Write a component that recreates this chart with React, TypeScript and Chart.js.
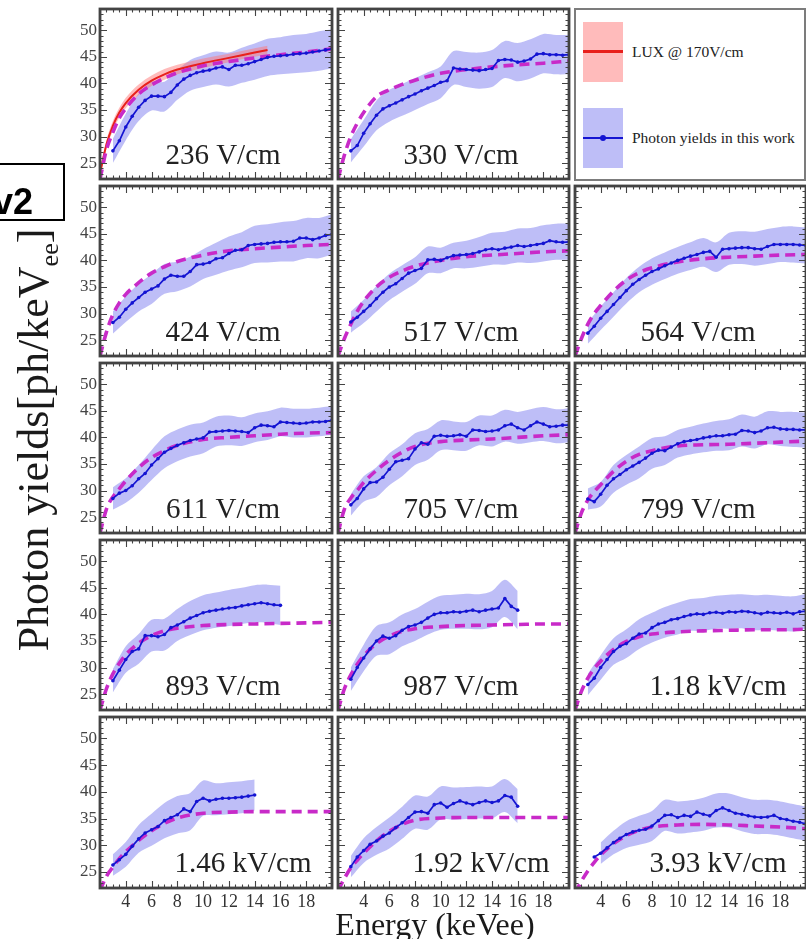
import React, { useEffect, useRef } from "react";
import { Chart, registerables } from "chart.js";

Chart.register(...registerables);

// ---------------- data grids ----------------
const E_DATA = [3, 3.5, 4, 4.5, 5, 5.5, 6, 6.5, 7, 7.5, 8, 8.5, 9, 9.5, 10, 10.5, 11, 11.5, 12, 12.5, 13, 13.5, 14, 14.5, 15, 15.5, 16, 16.5, 17, 17.5, 18, 18.5, 19, 19.5, 20];
const E_BAND = [3, 4, 5, 6, 7, 8, 9, 10, 11, 12, 13, 14, 15, 16, 17, 18, 19, 20];
const E_MODEL = [2, 2.5, 3, 3.5, 4, 5, 6, 7, 8, 10, 12, 14, 16, 18, 20];
const X_TICKS = [4, 6, 8, 10, 12, 14, 16, 18];
const Y_TICKS = [25, 30, 35, 40, 45, 50];

const FIELD_LABELS = ["236 V/cm", "330 V/cm", "424 V/cm", "517 V/cm", "564 V/cm", "611 V/cm", "705 V/cm", "799 V/cm", "893 V/cm", "987 V/cm", "1.18 kV/cm", "1.46 kV/cm", "1.92 kV/cm", "3.93 kV/cm"];

// LUX @ 170 V/cm
const LUX_E = [2, 2.5, 3, 3.5, 4, 5, 6, 7, 8, 10, 12, 14, 15];
const LUX_Y = [23.0, 28.5, 32.0, 34.5, 36.3, 38.8, 40.5, 41.7, 42.6, 43.8, 44.8, 45.8, 46.3];
const LUX_ERR = [0.6, 0.8, 0.9, 0.9, 1.0, 1.0, 1.0, 1.0, 0.9, 0.9, 0.8, 0.8, 0.8];

// photon yields (this work), model curves, and error half-widths
const yld236 = [27.3, 29.2, 31.8, 33.8, 35.5, 36.8, 37.6, 37.6, 37.5, 38.3, 39.7, 40.8, 41.5, 42.0, 42.3, 42.5, 42.9, 43.1, 42.6, 43.4, 43.4, 43.7, 44.1, 44.5, 44.9, 45.1, 45.2, 45.3, 45.5, 45.6, 45.7, 45.9, 46.1, 46.3, 46.5];
const err236 = [2.3, 2.5, 2.6, 2.7, 2.8, 2.8, 2.9, 3.0, 3.1, 3.2, 3.3, 3.4, 3.5, 3.5, 3.6, 3.6, 3.7, 3.7];
const mod236 = [22.0, 27.5, 30.8, 33.5, 35.3, 38.0, 39.7, 41.0, 42.0, 43.3, 44.1, 44.8, 45.4, 45.9, 46.5];

const yld330 = [27.3, 28.3, 30.6, 32.4, 34.0, 35.2, 35.8, 36.3, 36.9, 37.5, 38.0, 38.6, 39.1, 39.6, 40.2, 40.5, 42.9, 42.7, 42.6, 42.5, 42.4, 42.6, 42.8, 44.3, 44.5, 44.4, 44.0, 44.2, 44.6, 45.5, 45.6, 45.4, 45.4, 45.3, 45.4];
const err330 = [2.2, 2.5, 2.8, 3.0, 3.0, 3.0, 3.0, 3.0, 3.2, 3.3, 3.4, 3.5, 3.5, 3.6, 3.7, 3.7, 3.7, 3.7];
const mod330 = [22.0, 26.5, 30.0, 32.5, 34.5, 37.5, 38.8, 39.8, 40.6, 41.9, 42.6, 43.1, 43.5, 43.8, 44.2];

const yld424 = [28.3, 29.3, 30.8, 32.0, 33.0, 34.0, 34.6, 35.2, 36.5, 37.2, 37.0, 37.0, 37.9, 39.2, 39.3, 39.6, 40.3, 40.5, 41.3, 41.9, 42.0, 42.8, 43.0, 43.1, 43.2, 43.4, 43.5, 43.5, 43.6, 44.2, 44.2, 43.9, 44.2, 44.7, 44.9];
const err424 = [2.1, 2.4, 2.6, 2.8, 2.8, 2.8, 2.8, 2.8, 3.0, 3.2, 3.3, 3.5, 3.6, 3.7, 3.8, 3.8, 3.8, 3.8];
const mod424 = [22.0, 26.5, 29.8, 32.0, 33.6, 35.8, 37.6, 38.8, 39.8, 41.0, 41.8, 42.2, 42.5, 42.8, 43.0];

const yld517 = [28.4, 29.3, 30.4, 31.5, 32.8, 34.0, 35.0, 35.6, 36.6, 37.6, 38.1, 38.5, 40.1, 40.2, 40.0, 40.5, 40.9, 41.0, 41.1, 41.3, 41.6, 42.0, 42.2, 42.0, 42.3, 42.5, 42.8, 42.6, 42.8, 43.0, 43.2, 43.7, 43.5, 43.4, 43.5];
const err517 = [2.0, 2.2, 2.4, 2.5, 2.5, 2.5, 2.5, 2.4, 2.4, 2.6, 2.8, 3.0, 3.1, 3.2, 3.3, 3.4, 3.4, 3.4];
const mod517 = [22.0, 25.3, 28.0, 30.4, 32.3, 35.0, 36.8, 38.0, 38.9, 40.0, 40.7, 41.0, 41.3, 41.6, 41.8];

const yld564 = [26.3, 27.6, 29.1, 30.4, 31.7, 33.0, 34.3, 35.5, 36.4, 37.2, 37.9, 38.4, 39.0, 39.5, 40.0, 40.4, 40.8, 41.1, 41.5, 41.7, 40.6, 42.1, 42.2, 42.3, 42.4, 42.4, 42.2, 42.1, 42.6, 43.0, 43.0, 43.0, 43.0, 42.9, 42.8];
const err564 = [2.0, 2.2, 2.3, 2.4, 2.4, 2.5, 2.5, 2.5, 2.6, 2.7, 2.8, 3.0, 3.1, 3.2, 3.3, 3.3, 3.4, 3.4];
const mod564 = [22.0, 25.3, 28.0, 30.0, 31.5, 34.2, 36.3, 37.7, 38.6, 39.7, 40.3, 40.6, 40.8, 41.0, 41.1];

const yld611 = [28.5, 29.5, 30.0, 30.9, 32.2, 33.2, 34.8, 36.0, 37.2, 37.9, 38.5, 39.0, 39.4, 39.7, 39.9, 41.0, 41.1, 41.2, 41.3, 41.2, 41.1, 40.9, 41.8, 42.3, 42.2, 42.0, 42.9, 42.8, 42.7, 42.6, 42.7, 42.9, 42.9, 43.0, 43.2];
const err611 = [2.1, 2.3, 2.6, 2.8, 3.0, 3.0, 3.0, 2.9, 2.8, 2.8, 2.7, 2.7, 2.7, 2.7, 2.7, 2.7, 2.7, 2.7];
const mod611 = [22.0, 26.5, 28.8, 30.3, 31.8, 34.3, 36.2, 37.5, 38.5, 39.6, 40.0, 40.3, 40.6, 40.8, 40.9];

const yld705 = [27.3, 28.5, 30.3, 31.5, 31.6, 32.5, 34.0, 35.4, 35.7, 36.0, 37.8, 39.0, 38.7, 40.2, 40.4, 40.2, 40.3, 40.5, 40.2, 41.4, 41.3, 41.1, 41.2, 41.4, 42.2, 42.5, 41.8, 41.4, 42.2, 42.9, 42.5, 42.0, 42.1, 42.3, 42.3];
const err705 = [2.0, 2.4, 2.8, 3.0, 3.0, 3.0, 2.9, 2.8, 2.7, 2.7, 2.8, 2.9, 3.0, 3.0, 3.1, 3.2, 3.2, 3.2];
const mod705 = [22.0, 26.5, 28.6, 30.0, 31.5, 33.8, 35.7, 37.2, 38.3, 39.2, 39.5, 39.7, 40.0, 40.3, 40.5];

const yld799 = [28.4, 27.9, 29.3, 31.0, 32.2, 33.0, 33.9, 34.6, 35.3, 36.1, 37.0, 37.6, 37.5, 38.2, 38.8, 39.2, 39.4, 39.6, 39.9, 40.1, 40.3, 40.3, 40.5, 40.6, 41.3, 41.2, 40.9, 41.2, 41.8, 41.9, 41.6, 41.5, 41.5, 41.4, 41.4];
const err799 = [2.0, 2.3, 2.6, 2.8, 3.0, 2.9, 2.7, 2.6, 2.6, 2.7, 2.8, 2.9, 3.0, 3.0, 3.1, 3.2, 3.3, 3.3];
const mod799 = [22.0, 25.8, 28.2, 29.8, 31.1, 33.6, 35.5, 36.8, 37.5, 38.4, 38.6, 38.7, 38.9, 39.1, 39.3];

const yld893 = [27.5, 29.5, 31.5, 33.0, 33.5, 36.0, 36.0, 35.8, 36.2, 37.5, 38.0, 38.6, 39.3, 39.8, 40.3, 40.6, 40.8, 41.0, 41.2, 41.3, 41.6, 41.8, 42.0, 42.2, 42.0, 41.8, 41.7, null, null, null, null, null, null, null, null];
const err893 = [2.2, 2.5, 2.8, 3.0, 3.0, 3.0, 3.2, 3.3, 3.3, 3.4, 3.4, 3.5, 3.6, 3.7, null, null, null, null];
const mod893 = [22.0, 26.0, 28.8, 30.8, 32.4, 34.6, 36.0, 36.9, 37.4, 37.9, 38.1, 38.2, 38.3, 38.4, 38.5];

const yld987 = [27.8, 30.0, 31.8, 33.5, 35.0, 35.9, 35.5, 36.0, 37.0, 37.7, 38.0, 38.5, 39.3, 40.0, 40.3, 40.3, 40.5, 40.4, 40.6, 40.8, 40.5, 40.8, 41.0, 41.2, 43.0, 41.5, 40.8, null, null, null, null, null, null, null, null];
const err987 = [2.2, 2.5, 2.8, 3.0, 3.0, 3.0, 3.1, 3.2, 3.2, 3.3, 3.3, 3.4, 3.5, 3.6, null, null, null, null];
const mod987 = [22.0, 26.0, 28.6, 30.6, 32.2, 34.5, 35.9, 36.8, 37.3, 37.7, 37.9, 38.0, 38.1, 38.2, 38.2];

const yld1180 = [26.8, 28.0, 30.0, 31.5, 33.0, 34.0, 34.5, 35.5, 36.3, 36.5, 37.5, 38.2, 38.5, 39.0, 39.2, 39.6, 39.9, 40.1, 40.0, 40.3, 40.4, 40.2, 40.5, 40.4, 40.6, 40.5, 40.3, 40.1, 40.4, 40.3, 40.2, 40.4, 40.1, 40.5, 40.6];
const err1180 = [2.0, 2.3, 2.5, 2.7, 2.8, 2.8, 2.9, 3.0, 3.0, 3.1, 3.1, 3.2, 3.2, 3.3, 3.3, 3.3, 3.3, 3.3];
const mod1180 = [22.0, 25.5, 28.0, 29.8, 31.2, 33.4, 34.9, 35.8, 36.3, 36.7, 36.9, 37.0, 37.1, 37.1, 37.2];

const yld1460 = [26.3, 27.3, 28.3, 29.8, 31.2, 32.3, 32.9, 33.5, 34.6, 35.2, 35.7, 36.8, 36.3, 38.2, 38.8, 38.3, 38.6, 38.8, 38.8, 38.9, 39.0, 39.2, 39.4, null, null, null, null, null, null, null, null, null, null, null, null];
const err1460 = [2.0, 2.3, 2.6, 3.0, 3.3, 3.5, 3.5, 3.3, 3.0, 3.0, 3.0, 2.9, null, null, null, null, null, null];
const mod1460 = [21.5, 24.2, 25.9, 27.5, 28.8, 30.9, 32.7, 34.1, 35.1, 36.0, 36.2, 36.3, 36.3, 36.3, 36.3];

const yld1920 = [26.0, 27.8, 29.0, 30.2, 30.8, 31.7, 32.3, 33.3, 34.2, 35.2, 36.2, 36.3, 36.0, 37.6, 37.9, 37.1, 37.8, 38.3, 37.9, 37.6, 38.0, 38.3, 38.0, 38.3, 39.3, 39.0, 37.3, null, null, null, null, null, null, null, null];
const err1920 = [2.0, 2.3, 2.6, 2.9, 3.0, 3.1, 3.1, 3.1, 3.0, 3.0, 3.0, 3.0, 3.1, 3.2, null, null, null, null];
const mod1920 = [21.5, 23.8, 25.8, 27.2, 28.5, 30.8, 32.6, 33.9, 34.7, 35.1, 35.2, 35.2, 35.2, 35.2, 35.2];

const yld3930 = [null, 27.8, 28.5, 29.5, 30.5, 31.3, 32.0, 32.5, 32.8, 33.0, 33.6, 34.6, 35.6, 35.7, 35.2, 35.6, 35.4, 36.2, 35.8, 35.5, 36.5, 37.0, 36.5, 36.0, 35.8, 35.5, 35.3, 35.2, 35.3, 35.6, 35.0, 34.8, 34.5, 34.3, 34.0];
const err3930 = [null, 2.0, 2.2, 2.5, 2.7, 2.8, 2.9, 3.0, 3.0, 3.1, 3.2, 3.2, 3.2, 3.2, 3.2, 3.2, 3.2, 3.2];
const mod3930 = [21.0, 23.3, 25.2, 26.8, 28.2, 30.3, 31.8, 32.8, 33.4, 33.8, 33.9, 33.8, 33.6, 33.4, 33.1];

type Num = number | null;
type PanelDef = { label: string; yld: Num[]; err: Num[]; mod: number[]; lux?: boolean };

const PANELS: PanelDef[] = [
  { label: FIELD_LABELS[0], yld: yld236, err: err236, mod: mod236, lux: true },
  { label: FIELD_LABELS[1], yld: yld330, err: err330, mod: mod330 },
  { label: FIELD_LABELS[2], yld: yld424, err: err424, mod: mod424 },
  { label: FIELD_LABELS[3], yld: yld517, err: err517, mod: mod517 },
  { label: FIELD_LABELS[4], yld: yld564, err: err564, mod: mod564 },
  { label: FIELD_LABELS[5], yld: yld611, err: err611, mod: mod611 },
  { label: FIELD_LABELS[6], yld: yld705, err: err705, mod: mod705 },
  { label: FIELD_LABELS[7], yld: yld799, err: err799, mod: mod799 },
  { label: FIELD_LABELS[8], yld: yld893, err: err893, mod: mod893 },
  { label: FIELD_LABELS[9], yld: yld987, err: err987, mod: mod987 },
  { label: FIELD_LABELS[10], yld: yld1180, err: err1180, mod: mod1180 },
  { label: FIELD_LABELS[11], yld: yld1460, err: err1460, mod: mod1460 },
  { label: FIELD_LABELS[12], yld: yld1920, err: err1920, mod: mod1920 },
  { label: FIELD_LABELS[13], yld: yld3930, err: err3930, mod: mod3930 },
];

// ---------------- layout / style ----------------
const SERIF = '"Liberation Serif", "Times New Roman", serif';
const COL_X = [100, 337, 574];
const ROW_Y = [8, 185, 362, 539, 716];
const PW = 233;
const PH = 172;
const PAD = 3;
const Y_AXIS_W = 34;
const X_AXIS_H = 28;

const BLUE = "#1414d2";
const MAGENTA = "#c82ac8";
const BAND = "rgba(125,125,240,0.5)";
const RED = "#e8201c";
const PINK = "rgba(255,120,120,0.5)";
const FRAME = "#434343";

Chart.defaults.font.family = SERIF;

const framePlugin = {
  id: "rootFrame",
  afterDatasetsDraw(chart: any, _args: any, opts: any) {
    const { ctx, chartArea: a } = chart;
    const xs = chart.scales.x;
    const ys = chart.scales.y;
    ctx.save();
    ctx.strokeStyle = FRAME;
    ctx.lineWidth = 1.1;
    ctx.beginPath();
    for (let k = 0; k <= 36; k++) {
      const v = 2 + k * 0.5;
      const px = Math.round(xs.getPixelForValue(v)) + 0.5;
      const len = k % 4 === 0 ? 7 : 3.5;
      ctx.moveTo(px, a.bottom);
      ctx.lineTo(px, a.bottom - len);
      ctx.moveTo(px, a.top);
      ctx.lineTo(px, a.top + len);
    }
    for (let v = 22; v <= 54; v++) {
      const py = Math.round(ys.getPixelForValue(v)) + 0.5;
      const len = v % 5 === 0 ? 7 : 3.5;
      ctx.moveTo(a.left, py);
      ctx.lineTo(a.left + len, py);
      ctx.moveTo(a.right, py);
      ctx.lineTo(a.right - len, py);
    }
    ctx.stroke();
    ctx.lineWidth = 2.8;
    ctx.strokeRect(a.left, a.top, a.right - a.left, a.bottom - a.top);
    // field label
    const label: string = opts.label || "";
    const off = label.indexOf("kV") >= 0 ? 143 : 123;
    ctx.font = `29px ${SERIF}`;
    ctx.fillStyle = "#222";
    ctx.textAlign = "center";
    ctx.textBaseline = "alphabetic";
    ctx.fillText(label, a.left + off, a.top + 155);
    ctx.restore();
  },
};

function toPts(xs: number[], ys: Num[]) {
  const out: { x: number; y: number }[] = [];
  xs.forEach((x, i) => {
    const y = ys[i];
    if (y !== null && y !== undefined) out.push({ x, y });
  });
  return out;
}

function PanelChart({ def, row, col }: { def: PanelDef; row: number; col: number }) {
  const ref = useRef<HTMLCanvasElement | null>(null);
  const showY = col === 0;
  const showX = row === 4;
  const left = COL_X[col] - PAD - (showY ? Y_AXIS_W : 0);
  const top = ROW_Y[row] - PAD;
  const width = PW + 2 * PAD + (showY ? Y_AXIS_W : 0);
  const height = PH + 2 * PAD + (showX ? X_AXIS_H : 0);

  useEffect(() => {
    if (!ref.current) return;
    const bandLo: { x: number; y: number }[] = [];
    const bandHi: { x: number; y: number }[] = [];
    E_BAND.forEach((x, i) => {
      const v = def.yld[i * 2];
      const e = def.err[i];
      if (v == null || e == null) return;
      bandLo.push({ x, y: v - e });
      bandHi.push({ x, y: v + e });
    });

    const datasets: any[] = [
      {
        data: toPts(E_DATA, def.yld),
        borderColor: BLUE,
        backgroundColor: BLUE,
        borderWidth: 1.7,
        pointRadius: 1.8,
        pointBorderWidth: 0,
        pointBackgroundColor: BLUE,
        tension: 0,
        order: 0,
        clip: 0,
      },
      {
        data: toPts(E_MODEL, def.mod),
        borderColor: MAGENTA,
        borderWidth: 3.6,
        borderDash: [10, 6],
        pointRadius: 0,
        cubicInterpolationMode: "monotone",
        order: 1,
        clip: 0,
      },
      {
        data: bandLo,
        borderColor: "rgba(0,0,0,0)",
        borderWidth: 0,
        pointRadius: 0,
        tension: 0.3,
        fill: false,
        order: 8,
        clip: 0,
      },
      {
        data: bandHi,
        borderColor: "rgba(0,0,0,0)",
        backgroundColor: BAND,
        borderWidth: 0,
        pointRadius: 0,
        tension: 0.3,
        fill: "-1",
        order: 8,
        clip: 0,
      },
    ];

    if (def.lux) {
      const luxLo = LUX_E.map((x, i) => ({ x, y: LUX_Y[i] - LUX_ERR[i] }));
      const luxHi = LUX_E.map((x, i) => ({ x, y: LUX_Y[i] + LUX_ERR[i] }));
      datasets.push(
        {
          data: LUX_E.map((x, i) => ({ x, y: LUX_Y[i] })),
          borderColor: RED,
          borderWidth: 2,
          pointRadius: 0,
          cubicInterpolationMode: "monotone",
          order: 2,
          clip: 0,
        },
        {
          data: luxLo,
          borderColor: "rgba(0,0,0,0)",
          borderWidth: 0,
          pointRadius: 0,
          cubicInterpolationMode: "monotone",
          fill: false,
          order: 6,
          clip: 0,
        },
        {
          data: luxHi,
          borderColor: "rgba(0,0,0,0)",
          backgroundColor: PINK,
          borderWidth: 0,
          pointRadius: 0,
          cubicInterpolationMode: "monotone",
          fill: "-1",
          order: 6,
          clip: 0,
        }
      );
    }

    const chart = new Chart(ref.current, {
      type: "line",
      data: { datasets },
      plugins: [framePlugin],
      options: {
        animation: false,
        responsive: false,
        devicePixelRatio: 1,
        events: [],
        layout: { padding: PAD },
        plugins: {
          legend: { display: false },
          tooltip: { enabled: false },
          rootFrame: { label: def.label },
        } as any,
        scales: {
          x: {
            type: "linear",
            min: 2,
            max: 20,
            display: showX,
            grid: { display: false, drawTicks: false },
            border: { display: false },
            ticks: {
              font: { family: SERIF, size: 18 },
              color: "#333",
              padding: 3,
              maxRotation: 0,
              autoSkip: false,
            },
            afterBuildTicks: (s: any) => {
              s.ticks = X_TICKS.map((v) => ({ value: v }));
            },
            afterFit: (s: any) => {
              s.height = showX ? X_AXIS_H : 0;
              s.paddingLeft = 0;
              s.paddingRight = 0;
            },
          },
          y: {
            type: "linear",
            min: 22,
            max: 54,
            display: showY,
            grid: { display: false, drawTicks: false },
            border: { display: false },
            ticks: {
              font: { family: SERIF, size: 17 },
              color: "#444",
              padding: 3,
              autoSkip: false,
            },
            afterBuildTicks: (s: any) => {
              s.ticks = Y_TICKS.map((v) => ({ value: v }));
            },
            afterFit: (s: any) => {
              s.width = showY ? Y_AXIS_W : 0;
              s.paddingTop = 0;
              s.paddingBottom = 0;
            },
          },
        },
      } as any,
    });
    return () => chart.destroy();
  }, []);

  return (
    <canvas
      ref={ref}
      width={width}
      height={height}
      style={{ position: "absolute", left, top, width, height }}
    />
  );
}

function LegendBox() {
  const txt: React.CSSProperties = {
    position: "absolute",
    left: 56,
    transform: "translateY(-50%)",
    fontFamily: SERIF,
    fontSize: 15.5,
    lineHeight: "18px",
    color: "#222",
    whiteSpace: "nowrap",
  };
  return (
    <div
      style={{
        position: "absolute",
        left: 574,
        top: 8,
        width: 232,
        height: 173,
        boxSizing: "border-box",
        border: "2.5px solid #7c7c7c",
        background: "#fff",
      }}
    >
      <div style={{ position: "absolute", left: 6.5, top: 11.5, width: 40, height: 60, background: PINK }} />
      <div style={{ position: "absolute", left: 6.5, top: 40, width: 40, height: 3, background: RED }} />
      <div style={{ ...txt, top: 41.5 }}>LUX @ 170V/cm</div>
      <div style={{ position: "absolute", left: 6.5, top: 97.5, width: 40, height: 60, background: BAND }} />
      <div style={{ position: "absolute", left: 6.5, top: 126.5, width: 40, height: 2, background: BLUE }} />
      <div style={{ position: "absolute", left: 23.5, top: 124.5, width: 6, height: 6, borderRadius: 3, background: BLUE }} />
      <div style={{ ...txt, top: 127.5 }}>Photon yields in this work</div>
    </div>
  );
}

export default function App() {
  return (
    <div
      style={{
        position: "absolute",
        left: 0,
        top: 0,
        width: 806,
        height: 939,
        overflow: "hidden",
        background: "#fff",
      }}
    >
      {PANELS.map((p, i) => {
        const slot = i < 2 ? i : i + 1;
        return <PanelChart key={i} def={p} row={Math.floor(slot / 3)} col={slot % 3} />;
      })}
      <LegendBox />
      {/* y-axis title */}
      <div style={{ position: "absolute", left: 37, top: 440, width: 0, height: 0 }}>
        <div
          style={{
            position: "absolute",
            left: 0,
            top: 0,
            transform: "translate(-50%,-50%) rotate(-90deg)",
            whiteSpace: "nowrap",
            fontFamily: SERIF,
            fontSize: 44,
            lineHeight: "44px",
            color: "#1a1a1a",
          }}
        >
          Photon yields[ph/keV
          <span style={{ fontSize: 26, position: "relative", top: 10 }}>ee</span>]
        </div>
      </div>
      {/* x-axis title */}
      <div
        style={{
          position: "absolute",
          left: 435,
          top: 908,
          transform: "translateX(-50%)",
          whiteSpace: "nowrap",
          fontFamily: SERIF,
          fontSize: 32,
          lineHeight: "32px",
          color: "#1a1a1a",
        }}
      >
        Energy (keVee)
      </div>
      {/* overlay tag box */}
      <div
        style={{
          position: "absolute",
          left: -10,
          top: 163,
          width: 75,
          height: 58,
          boxSizing: "border-box",
          border: "2px solid #000",
          background: "#fff",
        }}
      />
      <div
        style={{
          position: "absolute",
          left: -7,
          top: 184,
          fontFamily: '"Liberation Sans", Arial, sans-serif',
          fontWeight: 700,
          fontSize: 36,
          lineHeight: "36px",
          color: "#000",
          whiteSpace: "nowrap",
        }}
      >
        v2
      </div>
    </div>
  );
}
